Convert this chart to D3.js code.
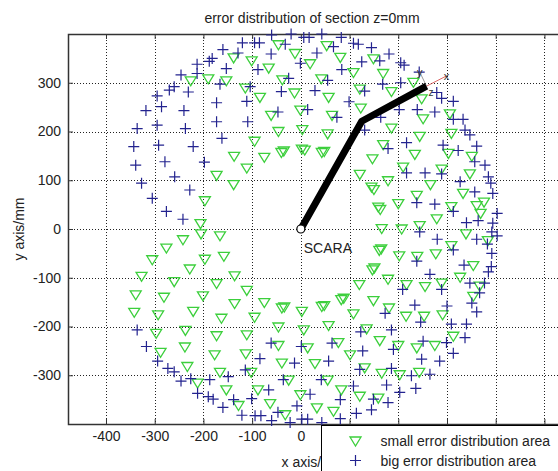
<!DOCTYPE html>
<html>
<head>
<meta charset="utf-8">
<script src="https://cdn.jsdelivr.net/npm/d3@7"></script>
<style>
  html, body { margin: 0; padding: 0; background: #fff; overflow: hidden; }
  svg { display: block; font-family: "Liberation Sans", Arial, sans-serif; }
</style>
</head>
<body>
<div id="chart"></div>
<script>
// scatter of the workspace section, values in mm
const smallError = [
  [-226,305],[-190,309],[-153,305],[-173,111],[-197,59],[-206,12],
  [-46,379],[53,377],[-12,361],[81,353],[-138,352],[-101,346],[-66,331],[19,340],
  [-114,290],[-38,307],[42,309],[-84,271],[-13,280],[57,271],[-61,234],[-1,245],[64,234],
  [-46,201],[3,205],[55,196],[-95,181],[-40,158],[-35,161],[2,165],[8,163],[43,158],[48,160],
  [-137,150],[-75,148],[-111,126],[-138,92],
  [149,350],[108,322],[169,320],[121,288],[186,283],[231,302],[248,268],[123,249],[251,227],
  [306,237],[186,208],[244,191],[309,197],[169,174],[234,154],[303,156],[351,150],[147,145],
  [121,113],[179,100],[210,128],[289,124],[266,92],[347,114],[145,87],[150,82],[333,74],
  [238,70],[200,53],[159,46],[163,41],[279,22],[309,47],[361,49],[166,2],[207,1],[244,8],
  [-205,-9],[-166,-13],[-242,-21],[-276,-38],[-305,-62],[-197,-61],[-158,-55],[-228,-81],
  [-327,-96],[-260,-107],[-173,-111],[-339,-134],[-281,-139],[-201,-136],[-342,-170],
  [-293,-175],[-221,-168],[-163,-182],[-297,-213],[-237,-207],[-173,-218],[-288,-252],
  [-238,-241],[-177,-257],[-233,-281],[-166,-293],[-212,-315],[-153,-329],
  [-136,-95],[-111,-125],[-136,-152],[-75,-150],[-39,-161],[-34,-159],[2,-168],[43,-158],
  [48,-156],[83,-144],[88,-141],[-95,-180],[-46,-200],[6,-206],[57,-197],[-111,-216],
  [-46,-238],[14,-243],[77,-232],[-113,-255],[-39,-274],[29,-275],[-102,-293],[-25,-309],
  [55,-309],[-88,-329],[-1,-339],[83,-329],[-128,-361],[-63,-357],[33,-366],[67,-373],[-32,-380],
  [339,-9],[309,-33],[161,-43],[165,-40],[202,-54],[239,-55],[277,-50],[354,-74],[147,-83],
  [151,-79],[179,-102],[217,-113],[255,-117],[289,-110],[327,-98],[120,-113],[149,-146],
  [108,-173],[181,-161],[216,-178],[253,-178],[291,-175],[354,-137],[313,-219],[135,-204],
  [162,-228],[200,-238],[238,-243],[275,-238],[101,-257],[131,-284],[166,-295],[203,-298],
  [243,-293],[121,-342],[159,-346],
  [376,56],[369,33],[384,-23],[367,-116]
];

const bigError = [
  [-160,368],[-182,350],[-188,344],[-213,338],[-153,329],[-246,316],[-213,319],[-166,297],
  [-260,292],[-270,285],[-231,281],[-295,273],[-173,259],[-286,251],[-318,243],[-240,243],
  [-173,220],[-295,213],[-336,206],[-237,206],[-162,186],[-292,172],[-343,169],[-221,169],
  [-279,138],[-198,137],[-339,131],[-259,107],[-327,94],[-228,80],[-305,63],[-276,36],[-242,20],
  [-60,398],[-20,400],[6,393],[17,393],[43,400],[83,393],[-120,382],[-95,382],[-85,382],
  [-129,361],[-61,359],[-32,379],[33,361],[67,374],[-1,340],[-88,327],[84,327],[-25,309],
  [55,305],[-104,292],[-40,282],[29,284],[-111,262],[-47,240],[14,245],[74,229],[-109,220],
  [108,381],[118,379],[145,372],[181,359],[125,343],[162,345],[205,341],[212,336],[243,322],
  [168,297],[205,300],[131,283],[279,280],[289,268],[99,261],[313,262],[202,245],[164,229],
  [239,245],[275,240],[131,203],[313,225],[333,225],[337,203],[347,193],[361,170],[217,177],
  [179,165],[292,172],[323,161],[357,138],[255,115],[289,113],[217,115],[327,97],[357,76],
  [238,54],[275,51],[313,36],[340,13],[364,17],
  [-336,-207],[-317,-241],[-294,-271],[-273,-286],[-260,-293],[-246,-312],[-226,-307],
  [-187,-309],[-149,-303],[-212,-337],[-190,-344],[-180,-349],[-160,-366],
  [-61,-234],[1,-241],[64,-234],[-84,-266],[-13,-275],[57,-271],[-114,-289],[-36,-309],
  [42,-309],[-66,-330],[19,-339],[81,-350],[-138,-350],[-101,-348],[-8,-363],[-121,-382],
  [-94,-383],[-82,-383],[-60,-393],[-47,-376],[-22,-397],[2,-390],[14,-390],[43,-397],[81,-389],
  [244,-6],[280,-21],[313,-43],[361,-21],[238,-66],[335,-74],[265,-93],[209,-124],[289,-124],
  [347,-111],[234,-156],[173,-173],[300,-158],[351,-152],[361,-170],[246,-191],[309,-195],
  [340,-195],[186,-207],[123,-211],[251,-230],[299,-233],[337,-223],[127,-250],[190,-247],
  [313,-255],[248,-267],[285,-271],[121,-288],[186,-286],[227,-301],[265,-298],[108,-322],
  [176,-320],[203,-335],[236,-327],[149,-349],[179,-356],[114,-378],[145,-371],
  [378,131],[385,107],[390,94],[394,73],[403,32],[394,12],[392,-6],[403,-14],[383,-31],
  [392,-50],[391,-77],[385,-88],[377,-111],[367,-131]
];

// SCARA arm: base, elbow, end effector (mm)
const armJoints = [[0, 0], [125, 221], [258, 293]];
const toolX = [299, 314];
const toolY = [244, 322];

const xTicks = [-400, -300, -200, -100, 0, 100, 200, 300, 400, 500];
// labels for 100..500 sit under the legend box in the original figure
const xTickLabels = ['-400', '-300', '-200', '-100', '0', '', '', '', '', ''];
const yTicks = [-300, -200, -100, 0, 100, 200, 300];
const yTickLabels = ['-300', '-200', '-100', '0', '100', '200', '300'];
const xDomain = [-478, 532];
const yDomain = [-400, 400];

const TITLE = 'error distribution of section z=0mm';
const X_LABEL = 'x axis/mm';
const Y_LABEL = 'y axis/mm';
const LEGEND = ['small error distribution area', 'big error distribution area'];

const W = 558, H = 471;
const PLOT = { left: 68, right: 560, top: 34, bottom: 424 };
const GREEN = '#3ccf3c';
const BLUE = '#23238f';

const svg = d3.select('#chart').append('svg')
  .attr('width', W).attr('height', H)
  .style('font-size', '14px');

const x = d3.scaleLinear().domain(xDomain).range([PLOT.left, PLOT.right]);
const y = d3.scaleLinear().domain(yDomain).range([PLOT.bottom, PLOT.top]);

svg.append('rect').attr('x', 0).attr('y', 0).attr('width', W).attr('height', H).attr('fill', '#fff');

// dotted grid
const grid = svg.append('g').attr('stroke', '#222').attr('stroke-width', 1)
  .attr('stroke-dasharray', '1,2');
grid.selectAll('.gx').data(xTicks).enter().append('line')
  .attr('x1', d => Math.round(x(d)) + 0.5).attr('x2', d => Math.round(x(d)) + 0.5)
  .attr('y1', PLOT.top).attr('y2', PLOT.bottom);
grid.selectAll('.gy').data(yTicks).enter().append('line')
  .attr('y1', d => Math.round(y(d)) + 0.5).attr('y2', d => Math.round(y(d)) + 0.5)
  .attr('x1', PLOT.left).attr('x2', PLOT.right);

// axes with inward ticks, MATLAB style
const axisColor = '#333';
function styleAxis(g) {
  g.select('.domain').remove();
  g.selectAll('.tick line').attr('stroke', axisColor);
  g.selectAll('.tick text').attr('fill', '#222').style('font-size', '14px');
}
svg.append('g').attr('transform', `translate(0,${PLOT.bottom})`)
  .call(d3.axisBottom(x).tickValues(xTicks).tickSizeInner(-5).tickSizeOuter(0).tickPadding(7)
    .tickFormat((_, i) => xTickLabels[i]))
  .call(styleAxis);
svg.append('g').attr('transform', `translate(0,${PLOT.top})`)
  .call(d3.axisTop(x).tickValues(xTicks).tickSizeInner(-5).tickSizeOuter(0).tickFormat(''))
  .call(styleAxis);
svg.append('g').attr('transform', `translate(${PLOT.left},0)`)
  .call(d3.axisLeft(y).tickValues(yTicks).tickSizeInner(-5).tickSizeOuter(0).tickPadding(7)
    .tickFormat((_, i) => yTickLabels[i]))
  .call(styleAxis);

svg.append('rect')
  .attr('x', PLOT.left + 0.5).attr('y', PLOT.top + 0.5)
  .attr('width', PLOT.right - PLOT.left).attr('height', PLOT.bottom - PLOT.top)
  .attr('fill', 'none').attr('stroke', axisColor).attr('stroke-width', 1.5);

// markers
const tri = 'M-5.5,-3.5L5.5,-3.5L0,5.5Z';
svg.append('g').selectAll('path').data(smallError).enter().append('path')
  .attr('d', tri)
  .attr('transform', d => `translate(${x(d[0])},${y(d[1])})`)
  .attr('fill', 'none').attr('stroke', GREEN).attr('stroke-width', 1.3);

const plus = 'M-5.5,0H5.5M0,-5.5V5.5';
svg.append('g').selectAll('path').data(bigError).enter().append('path')
  .attr('d', plus)
  .attr('transform', d => `translate(${x(d[0])},${y(d[1])})`)
  .attr('fill', 'none').attr('stroke', BLUE).attr('stroke-width', 1.2);

// arm
const end = armJoints[armJoints.length - 1];
svg.append('line')
  .attr('x1', x(end[0])).attr('y1', y(end[1]))
  .attr('x2', x(toolX[0])).attr('y2', y(toolX[1]))
  .attr('stroke', '#d04040').attr('stroke-width', 0.8);
svg.append('line')
  .attr('x1', x(end[0])).attr('y1', y(end[1]))
  .attr('x2', x(toolY[0])).attr('y2', y(toolY[1]))
  .attr('stroke', '#555').attr('stroke-width', 0.6);
svg.append('path')
  .attr('d', d3.line().x(d => x(d[0])).y(d => y(d[1]))(armJoints))
  .attr('fill', 'none').attr('stroke', '#000').attr('stroke-width', 7)
  .attr('stroke-linejoin', 'round');
svg.append('circle')
  .attr('cx', x(armJoints[0][0])).attr('cy', y(armJoints[0][1])).attr('r', 4)
  .attr('fill', '#fff').attr('stroke', '#000').attr('stroke-width', 1.2);

svg.append('text').attr('x', x(toolX[0])).attr('y', y(toolX[1]) + 4)
  .attr('text-anchor', 'middle').style('font-size', '11px').attr('fill', '#333').text('x');
svg.append('text').attr('x', x(toolY[0])).attr('y', y(toolY[1]) + 4)
  .attr('text-anchor', 'middle').style('font-size', '11px').attr('fill', '#333').text('y');
svg.append('text').attr('x', x(end[0]) + 2).attr('y', y(end[1]) + 10)
  .style('font-size', '10px').attr('fill', '#333').text('z');

svg.append('text').attr('x', x(6)).attr('y', y(-39) + 5)
  .attr('fill', '#222').text('SCARA');

// titles
svg.append('text').attr('x', 312).attr('y', 23).attr('text-anchor', 'middle')
  .attr('fill', '#222').text(TITLE);
svg.append('text').attr('x', 313).attr('y', 467).attr('text-anchor', 'middle')
  .attr('fill', '#222').text(X_LABEL);
svg.append('text')
  .attr('transform', `translate(24,${(PLOT.top + PLOT.bottom) / 2}) rotate(-90)`)
  .attr('text-anchor', 'middle').attr('fill', '#222').text(Y_LABEL);

// legend box, cut by the figure edge
const lg = svg.append('g').attr('transform', 'translate(321.5,425.5)');
lg.append('rect').attr('width', 260).attr('height', 70)
  .attr('fill', '#fff').attr('stroke', '#000').attr('stroke-width', 1);
lg.append('path').attr('d', tri).attr('transform', 'translate(34,15)')
  .attr('fill', 'none').attr('stroke', GREEN).attr('stroke-width', 1.3);
lg.append('path').attr('d', plus).attr('transform', 'translate(34,35)')
  .attr('fill', 'none').attr('stroke', BLUE).attr('stroke-width', 1.2);
lg.selectAll('.lt').data(LEGEND).enter().append('text')
  .attr('x', 59).attr('y', (_, i) => 20 + i * 20)
  .attr('fill', '#222').text(d => d);
</script>
</body>
</html>
